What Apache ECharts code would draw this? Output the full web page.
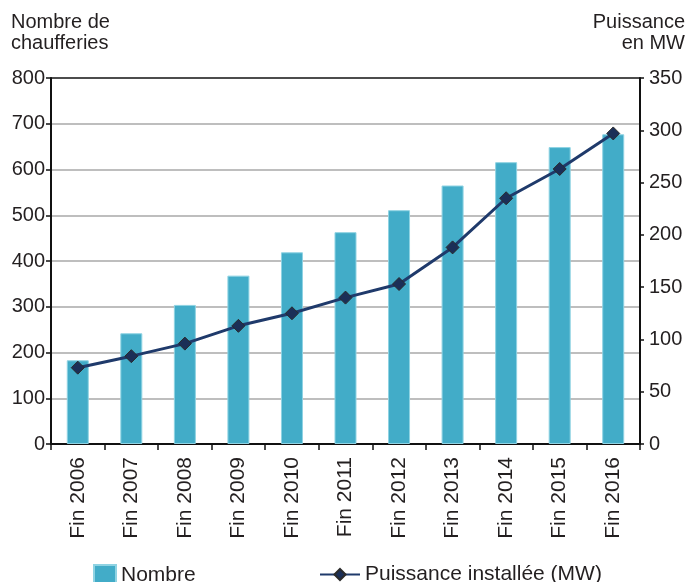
<!DOCTYPE html>
<html>
<head>
<meta charset="utf-8">
<script src="https://cdn.jsdelivr.net/npm/echarts@6/dist/echarts.min.js"></script>
<style>
  html, body { margin: 0; padding: 0; background: #fff; }
  #chart { width: 689px; height: 582px; }
</style>
</head>
<body>
<div id="chart"></div>
<script>
// données
const years = ["Fin 2006", "Fin 2007", "Fin 2008", "Fin 2009", "Fin 2010", "Fin 2011",
  "Fin 2012", "Fin 2013", "Fin 2014", "Fin 2015", "Fin 2016"];
const nombre = [183, 242, 304, 368, 419, 463, 511, 565, 616, 649, 677];
const puissance = [73, 84, 96, 113, 125, 140, 153, 188, 235, 263, 297];

const font = "Liberation Sans";
const txt = "#231f20";

const chart = echarts.init(document.getElementById("chart"));

chart.setOption({
  animation: false,
  textStyle: { fontFamily: font, color: txt },
  grid: { left: 51, right: 49, top: 78, bottom: 138, containLabel: false },
  legend: [
    {
      data: [{ name: "Nombre", icon: "rect" }],
      left: 88, top: 559,
      itemWidth: 22, itemHeight: 20, itemGap: 10,
      textStyle: { fontFamily: font, fontSize: 21, color: txt }
    },
    {
      data: ["Puissance installée (MW)"],
      left: 314, top: 559,
      itemWidth: 40, itemHeight: 14,
      textStyle: { fontFamily: font, fontSize: 21, color: txt }
    }
  ],
  xAxis: {
    type: "category",
    data: years,
    axisLine: { lineStyle: { color: "#111", width: 2 } },
    axisTick: { show: true, length: 6, lineStyle: { color: "#111", width: 1.5 } },
    axisLabel: { rotate: 90, margin: 13, fontSize: 21, color: txt, fontFamily: font }
  },
  yAxis: [
    {
      type: "value",
      min: 0, max: 800, interval: 100,
      name: "Nombre de\nchaufferies",
      nameLocation: "end",
      nameGap: 24,
      nameTextStyle: { align: "left", fontSize: 20, color: txt, fontFamily: font, padding: [0, 0, 0, -40], lineHeight: 21 },
      axisLine: { show: true, lineStyle: { color: "#111", width: 2 } },
      axisTick: { show: true, length: 5, lineStyle: { color: "#111", width: 1.5 } },
      axisLabel: { fontSize: 20, color: txt, margin: 6, fontFamily: font },
      splitLine: {
        show: true,
        lineStyle: {
          color: ["#a8a8a8", "#a8a8a8", "#a8a8a8", "#a8a8a8", "#a8a8a8", "#a8a8a8", "#a8a8a8", "#a8a8a8", "#111"],
          width: 1.5
        }
      }
    },
    {
      type: "value",
      min: 0, max: 350, interval: 50,
      name: "Puissance\nen MW",
      nameLocation: "end",
      nameGap: 24,
      nameTextStyle: { align: "right", fontSize: 20, color: txt, fontFamily: font, padding: [0, -45, 0, 0], lineHeight: 21 },
      axisLine: { show: true, lineStyle: { color: "#111", width: 2 } },
      axisTick: { show: true, length: 4, lineStyle: { color: "#111", width: 1.5 } },
      axisLabel: { fontSize: 20, color: txt, margin: 9, fontFamily: font },
      splitLine: { show: false }
    }
  ],
  series: [
    {
      name: "Nombre",
      type: "bar",
      yAxisIndex: 0,
      data: nombre,
      barWidth: 22,
      itemStyle: { color: "#42acc8", borderColor: "#8fd3e3", borderWidth: 1 }
    },
    {
      name: "Puissance installée (MW)",
      type: "line",
      yAxisIndex: 1,
      data: puissance,
      symbol: "diamond",
      symbolSize: 13,
      lineStyle: { color: "#1f3a6b", width: 3 },
      itemStyle: { color: "#1b2f57", borderColor: "#2b2b2b", borderWidth: 1 }
    }
  ]
});
</script>
</body>
</html>
